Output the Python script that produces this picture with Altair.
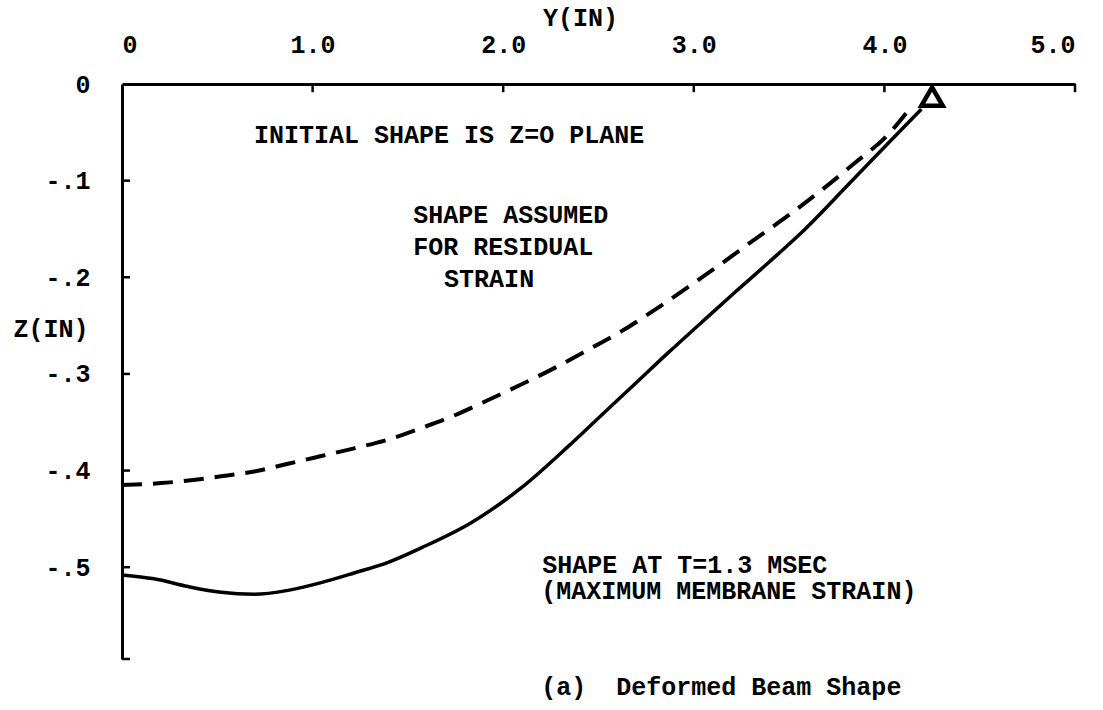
import altair as alt
import pandas as pd

# Deformed beam shape at T=1.3 MSEC (solid)
solid_y = [0.0, 0.168, 0.346, 0.520, 0.693, 0.871, 1.045, 1.218, 1.396, 1.570,
           1.832, 2.094, 2.341, 2.514, 2.688, 2.866, 3.039, 3.213, 3.391,
           3.564, 3.811, 4.021, 4.194]
solid_z = [-0.508, -0.512, -0.520, -0.526, -0.528, -0.524, -0.516, -0.506, -0.495, -0.480,
           -0.454, -0.418, -0.375, -0.343, -0.311, -0.278, -0.247, -0.216, -0.185,
           -0.154, -0.104, -0.061, -0.026]

# Shape assumed for residual strain (dashed)
dashed_y = [0.0, 0.205, 0.520, 0.693, 0.871, 1.045, 1.218, 1.396, 1.570, 1.743,
            1.921, 2.094, 2.268, 2.446, 2.619, 2.793, 2.971, 3.144, 3.318, 3.496,
            3.669, 3.843, 4.021, 4.142]
dashed_z = [-0.415, -0.413, -0.406, -0.401, -0.393, -0.385, -0.377, -0.368, -0.356, -0.343,
            -0.327, -0.311, -0.294, -0.275, -0.256, -0.234, -0.210, -0.186, -0.161, -0.136,
            -0.110, -0.082, -0.052, -0.023]

# Support symbol
support_y = [4.25]
support_z = [-0.013]

x_ticks = [0, 1, 2, 3, 4, 5]
z_ticks = [0, -0.1, -0.2, -0.3, -0.4, -0.5]
z_stub = [-0.1, -0.2, -0.3, -0.4, -0.5, -0.595]

notes_text = ["INITIAL SHAPE IS Z=O PLANE", "SHAPE ASSUMED", "FOR RESIDUAL", "STRAIN",
              "SHAPE AT T=1.3 MSEC", "(MAXIMUM MEMBRANE STRAIN)",
              "(a) \u00a0Deformed Beam Shape"]
notes_y = [0.693, 1.528, 1.528, 1.690, 2.205, 2.200, 2.200]
notes_z = [-0.053, -0.136, -0.169, -0.202, -0.498, -0.525, -0.624]

FONT = "Liberation Mono"

solid_df = pd.DataFrame({"y": solid_y, "z": solid_z, "i": range(len(solid_y))})
dashed_df = pd.DataFrame({"y": dashed_y, "z": dashed_z, "i": range(len(dashed_y))})
support_df = pd.DataFrame({"y": support_y, "z": support_z})
notes_df = pd.DataFrame({"text": notes_text, "y": notes_y, "z": notes_z})
xt_df = pd.DataFrame({"y": x_ticks[1:], "z": [0.0] * 5, "z2": [-0.0085] * 5})
zt_df = pd.DataFrame({"y": [0.0] * len(z_stub), "y2": [0.042] * len(z_stub), "z": z_stub})

xscale = alt.Scale(domain=[0, 5], nice=False, zero=False)
zscale = alt.Scale(domain=[-0.595, 0], nice=False, zero=False)

x_axis = alt.Axis(orient="top", values=x_ticks, title="Y(IN)",
                  labelExpr="datum.value == 0 ? '0' : format(datum.value, '.1f')",
                  labelPadding=27, titleX=458, titleY=-67, titleAlign="center",
                  titleBaseline="middle")
z_axis = alt.Axis(orient="left", values=z_ticks, title="Z(IN)",
                  labelExpr="datum.value == 0 ? '0' : '-.' + toString(round(-datum.value * 10))",
                  labelPadding=32, titleAngle=0, titleX=-109, titleY=244,
                  titleAlign="left", titleBaseline="middle")

solid = alt.Chart(solid_df).mark_line(color="black", strokeWidth=3.5,
                                      interpolate="monotone").encode(order="i:Q")

dashed = alt.Chart(dashed_df).mark_line(color="black", strokeWidth=4, strokeDash=[20, 11],
                                        interpolate="monotone").encode(order="i:Q")

support = alt.Chart(support_df).mark_point(shape="triangle-up", size=460, filled=False,
                                           color="black", opacity=1, strokeWidth=4.5)

xticks = alt.Chart(xt_df).mark_rule(color="black", strokeWidth=2.5).encode(y2="z2:Q")

zticks = alt.Chart(zt_df).mark_rule(color="black", strokeWidth=2.5).encode(x2="y2:Q")

notes = alt.Chart(notes_df).mark_text(font=FONT, fontSize=25, fontWeight="bold", color="black",
                                      align="left", baseline="middle").encode(text="text:N")

chart = alt.layer(solid, dashed, support, xticks, zticks, notes).encode(
    x=alt.X("y:Q", scale=xscale, axis=x_axis),
    y=alt.Y("z:Q", scale=zscale, axis=z_axis),
).properties(
    width=953,
    height=575,
    autosize=alt.AutoSizeParams(type="none"),
    padding={"left": 122, "top": 84, "right": 28, "bottom": 51},
    background="white",
).configure_view(stroke=None).configure_axis(
    domainColor="black",
    domainWidth=3,
    ticks=False,
    grid=False,
    labelFont=FONT,
    labelFontSize=25,
    labelFontWeight="bold",
    labelColor="black",
    titleFont=FONT,
    titleFontSize=25,
    titleFontWeight="bold",
    titleColor="black",
    labelOverlap=False,
)

chart.save("out.html", embed_options={"renderer": "svg", "actions": False})
